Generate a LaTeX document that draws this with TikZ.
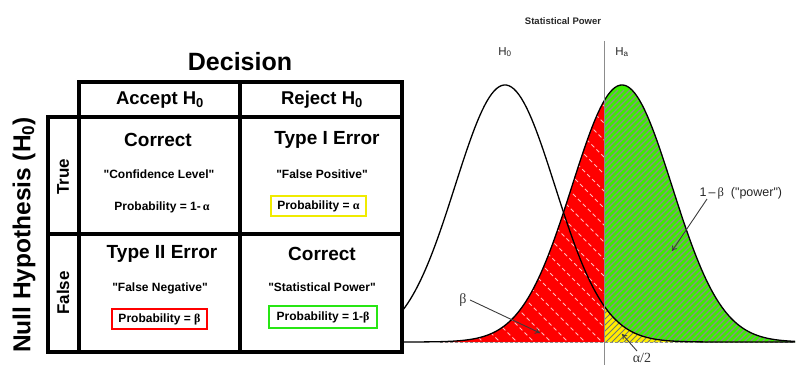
\documentclass[tikz,border=0pt]{standalone}
\usepackage{fontspec}
\setmainfont{Liberation Sans}[Ligatures=TeXOff]
\newfontfamily\grk{Liberation Serif}
\usetikzlibrary{arrows.meta}
\definecolor{pgreen}{RGB}{60,238,0}
\definecolor{pyellow}{RGB}{255,238,0}
\definecolor{bxgreen}{RGB}{40,230,20}
\definecolor{bxyellow}{RGB}{240,235,0}
\definecolor{arrgray}{RGB}{60,60,60}
\tikzset{
  tbl/.style={line width=3.5pt, line join=miter},
  head/.style={font=\fontsize{25}{28}\selectfont\bfseries},
  colhead/.style={font=\fontsize{18.5}{21}\selectfont\bfseries},
  rowhead/.style={font=\fontsize{17}{20}\selectfont\bfseries, rotate=90},
  celltitle/.style={font=\fontsize{19}{22}\selectfont\bfseries},
  cellquote/.style={font=\fontsize{12}{14}\selectfont\bfseries},
  prob/.style={font=\fontsize{12}{14}\selectfont\bfseries},
  probbox/.style={prob, draw, line width=1.6pt, inner sep=0pt},
  curve/.style={line width=1.3pt, black},
  lbl/.style={font=\fontsize{11.5}{13}\selectfont, text=black!85},
  glbl/.style={font=\fontsize{14}{16}\selectfont\grk, text=black!80},
  arr/.style={arrgray, line width=0.9pt, -{To[length=5pt,width=6pt]}},
}
\begin{document}
\begin{tikzpicture}[x=1pt,y=-1pt]
\useasboundingbox (0,0) rectangle (800,374);
% ---------------- table ----------------
\draw[tbl] (79,82) rectangle (402,352);
\draw[tbl] (48,117) rectangle (402,352);
\draw[tbl] (240,82) -- (240,352);
\draw[tbl] (48,234) -- (402,234);
\node[head] (decision) at (240,62) {Decision};
\node[colhead] (accept) at (160,100) {Accept H\textsubscript{0}};
\node[colhead] (reject) at (322,100) {Reject H\textsubscript{0}};
\node[rowhead] (true) at (63,177) {True};
\node[rowhead] (false) at (63,293) {False};
\node[font=\fontsize{24.5}{28}\selectfont\bfseries, rotate=90] (nullh) at (24,235) {Null Hypothesis (H\textsubscript{0})};
% cells
\node[celltitle] (c11) at (158,140) {Correct};
\node[cellquote] (q11) at (159,174) {"Confidence Level"};
\node[prob] (p11) at (162,207) {Probability = 1-\,{\grk α}};
\node[celltitle] (c12) at (327,140) {Type I Error};
\node[cellquote] (q12) at (322,174) {"False Positive"};
\node[probbox, draw=bxyellow, minimum width=95pt, minimum height=20pt] (p12) at (318.5,206) {Probability = {\grk α}};
\node[celltitle] (c21) at (162,254) {Type II Error};
\node[cellquote] (q21) at (160,288) {"False Negative"};
\node[probbox, draw=red, minimum width=95pt, minimum height=20pt] (p21) at (159.5,319) {Probability = {\grk β}};
\node[celltitle] (c22) at (322,254) {Correct};
\node[cellquote] (q22) at (322,287) {"Statistical Power"};
\node[probbox, draw=bxgreen, minimum width=108pt, minimum height=22pt] (p22) at (323,317) {Probability = 1-{\grk β}};
% ---------------- graph ----------------
% red region (beta)
\fill[red] (440,342) -- plot[domain=440:604, samples=80] (\x, {342-257*exp(-2*((\x-622)/100)^2)}) -- (604,342) -- cycle;
\begin{scope}
\clip (440,342) -- plot[domain=440:604, samples=80] (\x, {342-257*exp(-2*((\x-622)/100)^2)}) -- (604,342) -- cycle;
\foreach \k in {90,107,...,520} {
  \draw[white, opacity=0.75, line width=0.9pt, dash pattern=on 4pt off 3pt] ({\k+90},90) -- ({\k+345},345);
}
\end{scope}
% green region (power)
\fill[pgreen] (604,342) -- plot[domain=604:795, samples=80] (\x, {342-257*exp(-2*((\x-622)/100)^2)}) -- (795,342) -- cycle;
\begin{scope}
\clip (604,342) -- plot[domain=604:795, samples=80] (\x, {342-257*exp(-2*((\x-622)/100)^2)}) -- (795,342) -- cycle;
\foreach \k in {690,696,...,1150} {
  \draw[black!45, line width=1.3pt] ({\k-90},90) -- ({\k-345},345);
}
\end{scope}
% yellow region (alpha/2)
\fill[pyellow] (604,342) -- plot[domain=604:780, samples=60] (\x, {342-257*exp(-2*((\x-505)/100)^2)}) -- (780,342) -- cycle;
\begin{scope}
\clip (604,342) -- plot[domain=604:780, samples=60] (\x, {342-257*exp(-2*((\x-505)/100)^2)}) -- (780,342) -- cycle;
\foreach \k in {900,906,...,1130} {
  \draw[black!55, line width=0.9pt] ({\k-290},290) -- ({\k-345},345);
}
\end{scope}
% baseline
\draw[black!45, line width=0.8pt, dash pattern=on 3pt off 2pt] (440,342) -- (795,342);
% curves
\draw[curve] plot[domain=403:795, samples=160] (\x, {342-257*exp(-2*((\x-505)/100)^2)});
\draw[curve] plot[domain=403:795, samples=160] (\x, {342-257*exp(-2*((\x-622)/100)^2)});
% vertical critical line
\coordinate (vtop) at (604,41);
\coordinate (vbot) at (604,365);
\draw[black!45, line width=1pt] (vtop) -- (vbot);
% labels
\node[font=\fontsize{9.5}{11}\selectfont\bfseries, text=black!85] (title) at (563,21) {Statistical Power};
\node[lbl] (h0) at (505,52) {H\textsubscript{0}};
\node[lbl] (ha) at (622,52) {H\textsubscript{a}};
\node[glbl] (betal) at (463,300) {β};
\coordinate (betatip) at (540,333);
\draw[arr] (betal.east) -- (betatip);
\node[glbl] (alphal) at (642,358) {α/2};
\coordinate (alphastart) at (637,351);
\coordinate (alphatip) at (622,334);
\draw[arr] (alphastart) -- (alphatip);
\node[lbl, font=\fontsize{12.5}{14}\selectfont, anchor=west] (powerl) at (696,193) {1\,–\,{\grk β}\ \ ("power")};
\coordinate (powerstart) at (707,199);
\coordinate (powertip) at (672,251);
\draw[arr] (powerstart) -- (powertip);
\end{tikzpicture}
\end{document}
